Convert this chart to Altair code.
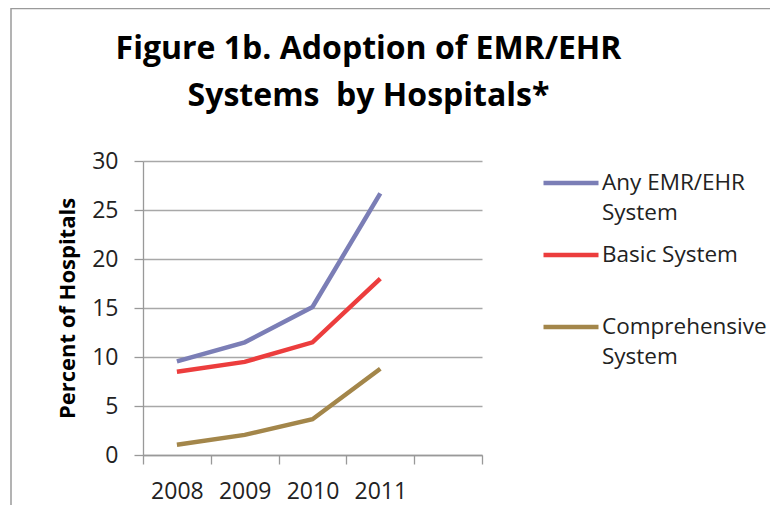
import altair as alt
import pandas as pd

years = ["2008", "2009", "2010", "2011"]
x_domain = years + ["2012"]
any_emr = [9.55, 11.5, 15.1, 26.7]
basic = [8.5, 9.5, 11.5, 18.0]
comprehensive = [1.05, 2.05, 3.65, 8.8]
series = ["Any EMR/EHR System", "Basic System", "Comprehensive System"]
colors = ["#7B7EB6", "#EC3D3D", "#A3864A"]
y_ticks = [0, 5, 10, 15, 20, 25, 30]

rows = []
for s, vals in zip(series, [any_emr, basic, comprehensive]):
    for yr, v in zip(years, vals):
        rows.append({"year": yr, "pct": v, "series": s})
df = pd.DataFrame(rows)

FONT = "Open Sans"
label_expr = ("datum.label == 'Any EMR/EHR System' ? ['Any EMR/EHR', 'System'] : "
              "datum.label == 'Comprehensive System' ? ['Comprehensive', 'System'] : "
              "[datum.label, '']")

lines = alt.Chart(df).mark_line(strokeWidth=4.5).encode(
    x=alt.X("year:N", sort=x_domain,
            scale=alt.Scale(type="band", domain=x_domain, paddingInner=0, paddingOuter=0),
            axis=alt.Axis(title=None, tickBand="extent", tickSize=9, labelPadding=16,
                          labelExpr="datum.value == '2012' ? '' : datum.value",
                          labelAngle=0, grid=False)),
    y=alt.Y("pct:Q", scale=alt.Scale(domain=[0, 30], nice=False),
            axis=alt.Axis(title="Percent of Hospitals", values=y_ticks, tickSize=9,
                          labelPadding=16, titlePadding=12, grid=True)),
    color=alt.Color("series:N", scale=alt.Scale(domain=series, range=colors),
                    legend=alt.Legend(title=None, orient="none", legendX=398, legendY=-8,
                                      symbolType="stroke", symbolSize=3025,
                                      symbolStrokeWidth=4.5, labelExpr=label_expr,
                                      labelFont=FONT, labelFontSize=22.5, labelColor="#222",
                                      labelLimit=300, labelOffset=1, rowPadding=-1,
                                      labelBaseline="middle")),
)

frame_df = pd.DataFrame({"k": [0]})
left_border = alt.Chart(frame_df).mark_rule(color="#9a9a9a", strokeWidth=1.5).encode(
    x=alt.value(-132), y=alt.value(-153), y2=alt.value(400))
top_border = alt.Chart(frame_df).mark_rule(color="#9a9a9a", strokeWidth=1.5).encode(
    x=alt.value(-132), x2=alt.value(700), y=alt.value(-152.5))

chart = alt.layer(lines, left_border, top_border).properties(
    width=339, height=294,
    padding={"left": 135, "top": 153, "right": 288, "bottom": 50},
    autosize=alt.AutoSizeParams(type="none"),
    title=alt.TitleParams(
        text=["Figure 1b. Adoption of EMR/EHR", "Systems\u00a0\u00a0by Hospitals*"],
        font=FONT, fontSize=32, fontWeight="bold", color="#000",
        anchor="middle", dx=56, dy=106, lineHeight=47, offset=0),
).configure(
    style={"guide-label": {"lineHeight": 30}}
).configure_view(stroke=None).configure_axis(
    labelFont=FONT, labelFontSize=23, labelColor="#222",
    titleFont=FONT, titleFontSize=22, titleFontWeight="bold", titleColor="#000",
    gridColor="#A8A8A8", domainColor="#999", tickColor="#999",
    domainWidth=1.3, gridWidth=1.3, tickWidth=1.3,
)

chart.save("out.html", embed_options={"renderer": "svg", "actions": False})
